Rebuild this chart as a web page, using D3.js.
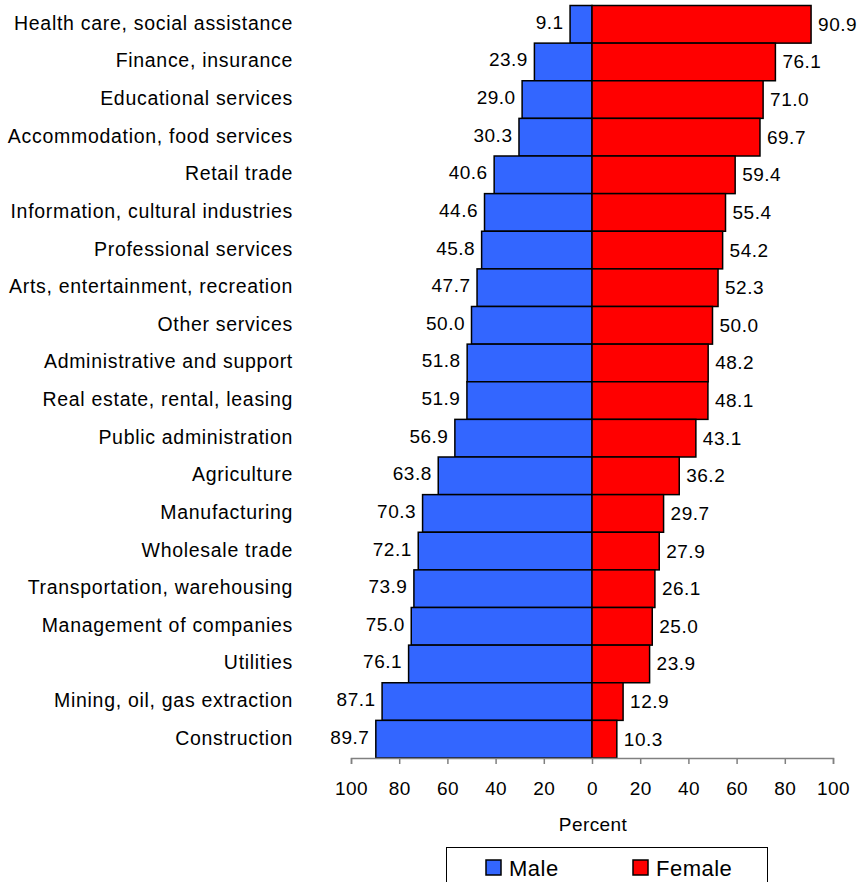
<!DOCTYPE html>
<html>
<head>
<meta charset="utf-8">
<script src="https://cdn.jsdelivr.net/npm/d3@7"></script>
<style>
  html, body { margin: 0; padding: 0; background: #fff; }
  svg { display: block; font-family: "Liberation Sans", Arial, sans-serif; }
</style>
</head>
<body>
<svg id="chart" width="862" height="882"></svg>
<script>
// Industries, top to bottom
const categories = [
  "Health care, social assistance",
  "Finance, insurance",
  "Educational services",
  "Accommodation, food services",
  "Retail trade",
  "Information, cultural industries",
  "Professional services",
  "Arts, entertainment, recreation",
  "Other services",
  "Administrative and support",
  "Real estate, rental, leasing",
  "Public administration",
  "Agriculture",
  "Manufacturing",
  "Wholesale trade",
  "Transportation, warehousing",
  "Management of companies",
  "Utilities",
  "Mining, oil, gas extraction",
  "Construction"
];
// Share of employment by sex, percent
const maleValues = [9.1, 23.9, 29.0, 30.3, 40.6, 44.6, 45.8, 47.7, 50.0, 51.8,
                    51.9, 56.9, 63.8, 70.3, 72.1, 73.9, 75.0, 76.1, 87.1, 89.7];
const femaleValues = [90.9, 76.1, 71.0, 69.7, 59.4, 55.4, 54.2, 52.3, 50.0, 48.2,
                      48.1, 43.1, 36.2, 29.7, 27.9, 26.1, 25.0, 23.9, 12.9, 10.3];
const tickValues = [-100, -80, -60, -40, -20, 0, 20, 40, 60, 80, 100];
const seriesNames = ["Male", "Female"];
const seriesColors = ["#3366FF", "#FF0000"];

const svg = d3.select("#chart");
const fontSize = 19;

// Male values run left of zero, female values right of zero
const x = d3.scaleLinear().domain([-100, 100]).range([351, 833]);
const y = d3.scaleBand().domain(categories).range([5.5, 758]).padding(0);

const rows = categories.map((c, i) => ({ cat: c, male: maleValues[i], female: femaleValues[i] }));

// Male bars
svg.append("g").selectAll("rect").data(rows).join("rect")
  .attr("x", d => x(-d.male))
  .attr("y", d => y(d.cat))
  .attr("width", d => x(0) - x(-d.male))
  .attr("height", y.bandwidth())
  .attr("fill", seriesColors[0])
  .attr("stroke", "#000")
  .attr("stroke-width", 1.5);

// Female bars
svg.append("g").selectAll("rect").data(rows).join("rect")
  .attr("x", x(0))
  .attr("y", d => y(d.cat))
  .attr("width", d => x(d.female) - x(0))
  .attr("height", y.bandwidth())
  .attr("fill", seriesColors[1])
  .attr("stroke", "#000")
  .attr("stroke-width", 1.5);

// Value labels
svg.append("g").selectAll("text").data(rows).join("text")
  .attr("x", d => x(-d.male) - 6.5)
  .attr("y", d => y(d.cat) + y.bandwidth() / 2 - 2)
  .attr("text-anchor", "end")
  .attr("dominant-baseline", "central")
  .attr("font-size", fontSize)
  .attr("letter-spacing", 0.5)
  .attr("fill", "#000")
  .text(d => d.male.toFixed(1));

svg.append("g").selectAll("text").data(rows).join("text")
  .attr("x", d => x(d.female) + 7)
  .attr("y", d => y(d.cat) + y.bandwidth() / 2)
  .attr("text-anchor", "start")
  .attr("dominant-baseline", "central")
  .attr("font-size", fontSize)
  .attr("letter-spacing", 0.5)
  .attr("fill", "#000")
  .text(d => d.female.toFixed(1));

// Category labels
svg.append("g").selectAll("text").data(rows).join("text")
  .attr("x", 293)
  .attr("y", d => y(d.cat) + y.bandwidth() / 2 - 1.5)
  .attr("text-anchor", "end")
  .attr("dominant-baseline", "central")
  .attr("font-size", 19.5)
  .attr("letter-spacing", 0.7)
  .attr("fill", "#000")
  .text(d => d.cat);

// Bottom axis
const axis = d3.axisBottom(x)
  .tickValues(tickValues)
  .tickFormat(d => Math.abs(d))
  .tickSize(6)
  .tickPadding(18);
const gAxis = svg.append("g").attr("transform", "translate(0,758)").call(axis);
gAxis.select(".domain").attr("stroke", "#808080").attr("stroke-width", 1.5);
gAxis.selectAll(".tick line").attr("stroke", "#808080").attr("stroke-width", 1.5);
gAxis.selectAll(".tick text")
  .attr("font-size", fontSize)
  .attr("font-family", "Liberation Sans, Arial, sans-serif")
  .attr("letter-spacing", 0.4)
  .attr("fill", "#000");

// Axis title
svg.append("text")
  .attr("x", x(0) + 1)
  .attr("y", 824)
  .attr("text-anchor", "middle")
  .attr("dominant-baseline", "central")
  .attr("font-size", fontSize)
  .attr("letter-spacing", 0.4)
  .text("Percent");

// Legend
const legend = svg.append("g");
legend.append("rect")
  .attr("x", 446.5).attr("y", 847.5)
  .attr("width", 321).attr("height", 60)
  .attr("fill", "#fff")
  .attr("stroke", "#000")
  .attr("stroke-width", 1);
const legendX = [486, 633];
seriesNames.forEach((name, i) => {
  legend.append("rect")
    .attr("x", legendX[i]).attr("y", 860)
    .attr("width", 15).attr("height", 15)
    .attr("fill", seriesColors[i])
    .attr("stroke", "#000")
    .attr("stroke-width", 1.5);
  legend.append("text")
    .attr("x", legendX[i] + 23)
    .attr("y", 868)
    .attr("dominant-baseline", "central")
    .attr("font-size", 22)
    .attr("letter-spacing", 0.5)
    .text(name);
});
</script>
</body>
</html>
